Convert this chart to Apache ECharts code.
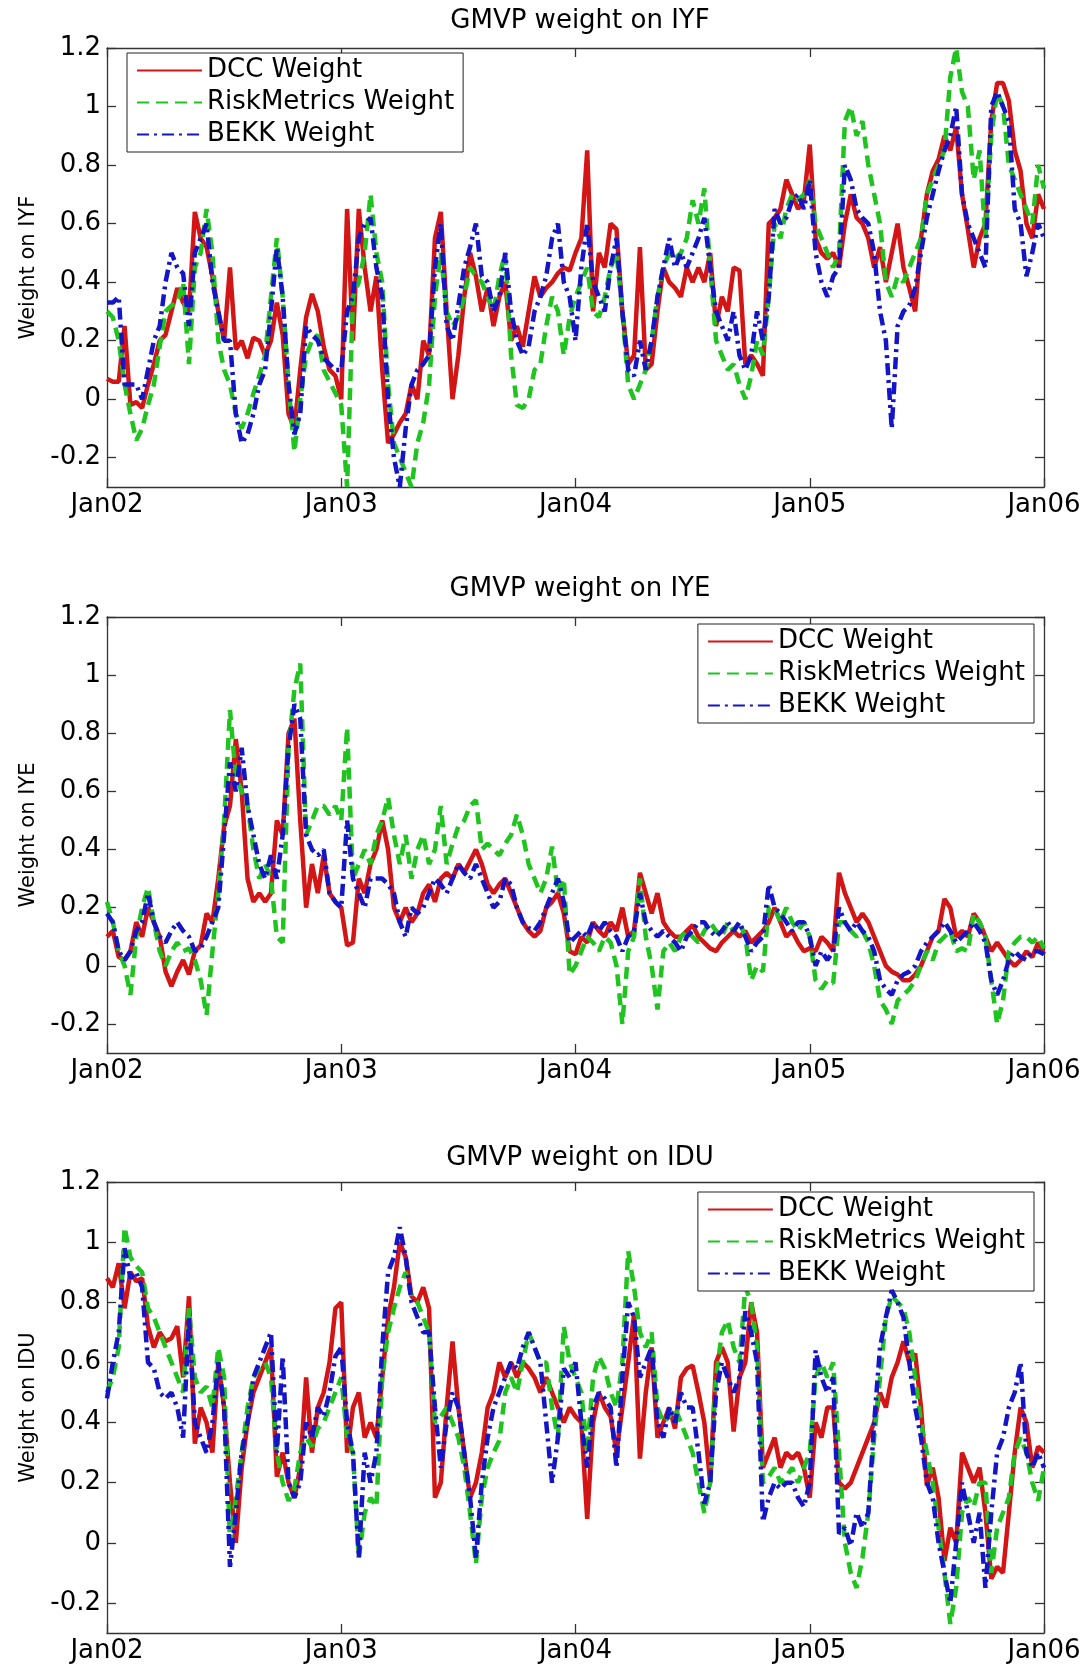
<!DOCTYPE html>
<html>
<head>
<meta charset="utf-8">
<title>GMVP weights</title>
<script src="https://cdn.jsdelivr.net/npm/echarts@6/dist/echarts.min.js"></script>
<style>
  html, body { margin: 0; padding: 0; background: #fff; }
  #main { width: 1092px; height: 1665px; }
</style>
</head>
<body>
<div id="main"></div>
<script>
// 40 samples a year, Jan 2002 .. Jan 2006
const yearTicks = [0, 40, 80, 120, 160];
const yearLabels = ['Jan02', 'Jan03', 'Jan04', 'Jan05', 'Jan06'];
const weightTicks = [-0.2, 0, 0.2, 0.4, 0.6, 0.8, 1, 1.2];
const seriesNames = ['DCC Weight', 'RiskMetrics Weight', 'BEKK Weight'];

const dccIYF = [
  0.07, 0.06, 0.06, 0.25, -0.02, -0.01, -0.03, 0.05, 0.12, 0.2,
  0.22, 0.3, 0.38, 0.33, 0.3, 0.64, 0.55, 0.52, 0.42, 0.3,
  0.2, 0.45, 0.17, 0.2, 0.14, 0.21, 0.2, 0.15, 0.2, 0.33,
  0.22, -0.05, -0.1, 0.1, 0.28, 0.36, 0.3, 0.18, 0.1, 0.08,
  0.0, 0.65, 0.2, 0.65, 0.45, 0.3, 0.42, 0.1, -0.15, -0.12,
  -0.08, -0.05, 0.05, 0.0, 0.2, 0.15, 0.55, 0.64, 0.3, 0.0,
  0.15, 0.35, 0.5, 0.42, 0.3, 0.38, 0.25, 0.35, 0.4, 0.2,
  0.25, 0.18, 0.3, 0.42, 0.35, 0.38, 0.4, 0.43, 0.45, 0.44,
  0.5, 0.55, 0.85, 0.3, 0.5, 0.45, 0.6, 0.58, 0.3, 0.12,
  0.15, 0.52, 0.1, 0.12, 0.3, 0.45, 0.4, 0.38, 0.35, 0.45,
  0.4, 0.45, 0.4, 0.5, 0.25, 0.35, 0.3, 0.45, 0.44, 0.12,
  0.15, 0.12, 0.08, 0.6, 0.62, 0.65, 0.75, 0.7, 0.65, 0.68,
  0.87, 0.55, 0.5, 0.48, 0.5, 0.45, 0.6, 0.7, 0.62, 0.6,
  0.55, 0.45, 0.52, 0.4, 0.5, 0.6, 0.45, 0.38, 0.3, 0.55,
  0.7, 0.78, 0.82, 0.9, 0.85, 0.93, 0.7, 0.58, 0.45, 0.55,
  0.6, 0.95, 1.08, 1.08, 1.02, 0.85, 0.78, 0.6, 0.55, 0.7,
  0.65
];
const rmIYF = [
  0.3, 0.28, 0.2, 0.05, -0.05, -0.14, -0.1, -0.02, 0.05, 0.18,
  0.3, 0.32, 0.33, 0.4, 0.12, 0.45, 0.5, 0.65, 0.5, 0.2,
  0.1, 0.05, -0.05, -0.1, -0.05, 0.02, 0.08, 0.15, 0.35, 0.55,
  0.35, 0.05, -0.18, 0.0, 0.15, 0.2, 0.22, 0.1, 0.06, 0.02,
  -0.02, -0.3, 0.35, 0.4, 0.5, 0.7, 0.5, 0.4, 0.05, -0.15,
  -0.2, -0.25, -0.3, -0.15, -0.08, 0.05, 0.35, 0.5, 0.3, 0.25,
  0.28, 0.35, 0.45, 0.42, 0.4, 0.35, 0.3, 0.42, 0.5, 0.15,
  -0.02, -0.03, 0.0, 0.1, 0.12, 0.25, 0.35, 0.3, 0.15, 0.28,
  0.35, 0.4, 0.45, 0.3, 0.28, 0.35, 0.45, 0.5, 0.3, 0.05,
  0.0, 0.05, 0.1, 0.2, 0.35, 0.45, 0.5, 0.48, 0.5, 0.55,
  0.68, 0.6, 0.72, 0.45, 0.2, 0.15, 0.1, 0.12, 0.05, 0.0,
  0.08, 0.2, 0.15, 0.35, 0.6, 0.55, 0.65, 0.7, 0.68, 0.7,
  0.75, 0.6, 0.55, 0.5, 0.45, 0.5, 0.95, 1.0, 0.9, 0.95,
  0.8, 0.7, 0.6, 0.4, 0.35, 0.42, 0.4, 0.45, 0.5, 0.55,
  0.7, 0.75, 0.8, 0.85, 1.1, 1.2, 1.05, 1.0, 0.75, 0.85,
  0.55, 0.9, 1.05, 1.0, 0.8, 0.75, 0.7, 0.65, 0.6, 0.8,
  0.72
];
const bekkIYF = [
  0.33, 0.33, 0.35, 0.05, 0.05, 0.05, 0.0, 0.1, 0.2, 0.25,
  0.4, 0.5, 0.45, 0.43, 0.25, 0.5, 0.55, 0.6, 0.4, 0.3,
  0.2, 0.2, -0.05, -0.15, -0.12, -0.05, 0.05, 0.1, 0.3, 0.52,
  0.35, 0.05, -0.12, -0.05, 0.25, 0.22, 0.2, 0.14, 0.12, 0.1,
  0.1, 0.3, 0.35, 0.55, 0.6, 0.62, 0.45, 0.35, 0.0, -0.2,
  -0.3, -0.1, 0.05, 0.1, 0.12, 0.15, 0.45, 0.6, 0.25, 0.2,
  0.32, 0.45, 0.52, 0.6, 0.42, 0.4, 0.3, 0.35, 0.5, 0.3,
  0.2, 0.15, 0.18, 0.3, 0.35, 0.42, 0.55, 0.6, 0.4, 0.35,
  0.2, 0.45, 0.6, 0.4, 0.35, 0.3, 0.45, 0.55, 0.3, 0.1,
  0.08, 0.2, 0.1, 0.2, 0.35, 0.45, 0.55, 0.45, 0.5, 0.45,
  0.5, 0.55, 0.62, 0.45, 0.3, 0.25, 0.2, 0.3, 0.15, 0.1,
  0.15, 0.3, 0.2, 0.35, 0.65, 0.6, 0.62, 0.68, 0.7, 0.65,
  0.75, 0.5, 0.4, 0.35, 0.42, 0.45, 0.8, 0.75, 0.65, 0.62,
  0.6, 0.5, 0.3, 0.2, -0.1, 0.25, 0.3, 0.32, 0.38, 0.5,
  0.62, 0.7, 0.78, 0.85, 0.9, 1.0, 0.7, 0.6, 0.55, 0.5,
  0.45, 1.0, 1.05, 1.0, 0.95, 0.65, 0.6, 0.42, 0.5, 0.6,
  0.55
];

const dccIYE = [
  0.1, 0.12, 0.03, 0.02, 0.05, 0.15, 0.1, 0.2, 0.15, 0.1,
  -0.02, -0.07, -0.02, 0.02, -0.03, 0.05, 0.07, 0.18, 0.15, 0.3,
  0.48, 0.55, 0.78, 0.6, 0.3, 0.22, 0.25, 0.22, 0.25, 0.5,
  0.45, 0.8, 0.85, 0.5, 0.2, 0.35, 0.25, 0.38, 0.25, 0.22,
  0.2, 0.07, 0.08, 0.3, 0.25, 0.35, 0.4, 0.5, 0.4, 0.2,
  0.15, 0.2, 0.15, 0.18, 0.25, 0.28, 0.22, 0.3, 0.32, 0.3,
  0.35, 0.32, 0.36, 0.4, 0.35, 0.28, 0.25, 0.28, 0.3, 0.25,
  0.2, 0.15, 0.12, 0.1, 0.12, 0.2, 0.22, 0.25, 0.18, 0.05,
  0.04, 0.1, 0.08, 0.15, 0.12, 0.1, 0.15, 0.12, 0.2, 0.1,
  0.12, 0.32, 0.25, 0.18, 0.25, 0.15, 0.12, 0.1, 0.1, 0.12,
  0.14, 0.1, 0.08, 0.06, 0.05, 0.08, 0.1, 0.12, 0.1, 0.12,
  0.08, 0.1, 0.12, 0.15, 0.2, 0.15, 0.1, 0.12, 0.08, 0.05,
  0.06, 0.05, 0.1, 0.08, 0.05, 0.32, 0.25, 0.2, 0.15, 0.18,
  0.15, 0.1, 0.05, 0.0, -0.02, -0.03, -0.05, -0.05, -0.03, 0.0,
  0.05, 0.1, 0.12, 0.23, 0.2, 0.1, 0.12, 0.1, 0.18, 0.15,
  0.1, 0.05, 0.08, 0.05, 0.02, 0.0, 0.02, 0.05, 0.03, 0.08,
  0.04
];
const rmIYE = [
  0.22, 0.15, 0.05, 0.0, -0.1, 0.1, 0.2, 0.27, 0.15, 0.05,
  0.0, 0.05, 0.08, 0.05, 0.06, 0.02, -0.05, -0.17, 0.05, 0.25,
  0.5, 0.88, 0.65, 0.6, 0.55, 0.4, 0.3, 0.35, 0.3, 0.1,
  0.08, 0.75, 0.95, 1.04, 0.45, 0.5, 0.55, 0.55, 0.52, 0.55,
  0.5, 0.82, 0.3, 0.35, 0.4, 0.35, 0.45, 0.5, 0.58, 0.45,
  0.35, 0.45, 0.3, 0.4, 0.45, 0.35, 0.4, 0.55, 0.35, 0.42,
  0.48, 0.5, 0.55, 0.57, 0.4, 0.42, 0.4, 0.38, 0.42, 0.45,
  0.52, 0.45, 0.35, 0.3, 0.25, 0.3, 0.41, 0.25, 0.3, -0.03,
  0.0, 0.05, 0.1, 0.08, 0.05, 0.1, 0.08, 0.0, -0.2, 0.05,
  0.1, 0.3, 0.1, 0.0, -0.15, 0.05, 0.08, 0.05, 0.1, 0.12,
  0.1, 0.08, 0.12, 0.15, 0.12, 0.1, 0.15, 0.12, 0.15, 0.1,
  -0.05, 0.0, -0.02, 0.2, 0.2, 0.15, 0.2, 0.15, 0.12, 0.15,
  0.1, -0.05, -0.08, -0.05, -0.06, 0.15, 0.15, 0.12, 0.1, 0.12,
  0.08, 0.0, -0.12, -0.15, -0.2, -0.12, -0.1, -0.08, -0.05, 0.0,
  0.05, 0.02, 0.08, 0.1, 0.12, 0.05, 0.06, 0.05, 0.18, 0.15,
  0.1, -0.05, -0.2, -0.12, 0.05, 0.08, 0.1, 0.1, 0.08, 0.1,
  0.06
];
const bekkIYE = [
  0.18, 0.15, 0.05, 0.02, 0.05, 0.12, 0.15, 0.25, 0.15, 0.1,
  0.08, 0.12, 0.15, 0.12, 0.1, 0.05, 0.06, 0.1, 0.15, 0.2,
  0.45, 0.7, 0.6, 0.75, 0.55, 0.45, 0.35, 0.3, 0.38, 0.3,
  0.45, 0.75, 0.9, 0.85, 0.45, 0.4, 0.38, 0.4, 0.25, 0.22,
  0.2, 0.5, 0.3, 0.25, 0.2, 0.3, 0.3, 0.3, 0.28, 0.25,
  0.15, 0.1, 0.2, 0.18, 0.2, 0.25, 0.3, 0.28, 0.25, 0.3,
  0.35, 0.32, 0.3, 0.35, 0.3, 0.25, 0.2, 0.22, 0.3, 0.28,
  0.2, 0.15, 0.13, 0.12, 0.15, 0.2, 0.25, 0.3, 0.22, 0.08,
  0.1, 0.12, 0.1, 0.15, 0.12, 0.15, 0.12, 0.1, 0.05, 0.1,
  0.12, 0.25, 0.15, 0.12, 0.1, 0.12, 0.1, 0.08, 0.05, 0.1,
  0.12, 0.15, 0.15, 0.12, 0.1, 0.12, 0.15, 0.12, 0.15, 0.1,
  0.05, 0.08, 0.1, 0.28, 0.2, 0.18, 0.15, 0.12, 0.15, 0.15,
  0.1, 0.0, 0.05, 0.02, 0.05, 0.2, 0.15, 0.12, 0.15, 0.12,
  0.1, 0.05, -0.05, -0.08, -0.1, -0.05, -0.03, -0.02, 0.0, 0.05,
  0.08, 0.1, 0.12, 0.15, 0.12, 0.08, 0.1, 0.12, 0.15, 0.12,
  0.08, -0.05, -0.1, -0.05, 0.02, 0.05, 0.03, 0.02, 0.05, 0.05,
  0.04
];

const dccIDU = [
  0.88, 0.85, 0.93, 0.78, 0.9, 0.87, 0.88, 0.72, 0.65, 0.7,
  0.67, 0.68, 0.72, 0.55, 0.82, 0.33, 0.45, 0.4, 0.3, 0.6,
  0.45, 0.2, 0.0, 0.25, 0.4, 0.5, 0.55, 0.6, 0.65, 0.22,
  0.3, 0.2, 0.15, 0.25, 0.55, 0.3, 0.45, 0.5, 0.6, 0.78,
  0.8, 0.3, 0.45, 0.5, 0.35, 0.4, 0.35, 0.55, 0.75, 0.85,
  1.0, 0.95, 0.82, 0.8, 0.85, 0.78, 0.15, 0.2, 0.45, 0.67,
  0.45, 0.3, 0.15, 0.2, 0.3, 0.45, 0.5, 0.6, 0.55, 0.6,
  0.55, 0.6, 0.58, 0.55, 0.5, 0.55, 0.5, 0.45, 0.4, 0.45,
  0.42, 0.4, 0.08, 0.4, 0.5, 0.45, 0.42, 0.3, 0.45, 0.6,
  0.76, 0.28, 0.5, 0.65, 0.35, 0.4, 0.45, 0.38, 0.55, 0.58,
  0.59, 0.5, 0.4, 0.2, 0.6, 0.65, 0.6, 0.37, 0.55, 0.6,
  0.8, 0.7, 0.25, 0.3, 0.35, 0.25, 0.3, 0.28, 0.3, 0.25,
  0.15, 0.4, 0.35, 0.45, 0.45, 0.2, 0.18, 0.2, 0.25, 0.3,
  0.35, 0.4, 0.5, 0.45, 0.55, 0.6, 0.67, 0.6, 0.63, 0.45,
  0.19, 0.25, 0.15, -0.06, 0.05, 0.0, 0.3, 0.25, 0.2, 0.25,
  0.1, -0.12, -0.08, -0.1, 0.1, 0.3, 0.45, 0.4, 0.25, 0.32,
  0.3
];
const rmIDU = [
  0.5, 0.55, 0.65, 1.05, 0.95, 0.92, 0.9, 0.78, 0.75, 0.7,
  0.65, 0.6, 0.55, 0.5, 0.78, 0.55, 0.5, 0.52, 0.45, 0.65,
  0.55, 0.0, 0.15, 0.3, 0.45, 0.55, 0.58, 0.6, 0.55, 0.3,
  0.2, 0.14, 0.18, 0.3, 0.35, 0.32, 0.38, 0.4, 0.45, 0.5,
  0.55, 0.35, 0.3, -0.05, 0.1, 0.15, 0.12, 0.55, 0.7, 0.78,
  0.85, 0.9, 0.82, 0.8, 0.75, 0.7, 0.4, 0.42, 0.45, 0.4,
  0.35, 0.25, 0.1, -0.07, 0.15, 0.25, 0.3, 0.34, 0.5, 0.55,
  0.5, 0.6, 0.7, 0.65, 0.6, 0.6, 0.45, 0.35, 0.72, 0.6,
  0.55, 0.5, 0.3, 0.55, 0.62, 0.58, 0.5, 0.45, 0.6, 0.97,
  0.85, 0.7, 0.65, 0.7, 0.45, 0.4, 0.42, 0.45, 0.4, 0.35,
  0.3, 0.2, 0.1, 0.2, 0.55, 0.7, 0.74, 0.65, 0.6, 0.85,
  0.8, 0.65, 0.2, 0.22, 0.25, 0.2, 0.22, 0.25, 0.2, 0.25,
  0.3, 0.55, 0.6, 0.55, 0.6, 0.3, 0.0, -0.1, -0.15, -0.05,
  0.1, 0.35, 0.55, 0.75, 0.82, 0.8, 0.78, 0.7, 0.55, 0.4,
  0.3, 0.2, 0.05, -0.1, -0.27, -0.15, 0.1, 0.15, 0.12, 0.2,
  0.2, -0.1, 0.05, 0.1, 0.15, 0.3, 0.35, 0.3, 0.2, 0.14,
  0.25
];
const bekkIDU = [
  0.48, 0.6, 0.7, 0.98, 0.88, 0.9, 0.85, 0.6, 0.58, 0.5,
  0.48, 0.5, 0.45, 0.35, 0.75, 0.4, 0.35, 0.3, 0.4, 0.6,
  0.45, -0.08, 0.1, 0.3, 0.4, 0.55, 0.6, 0.65, 0.7, 0.3,
  0.62, 0.2, 0.15, 0.2, 0.4, 0.35, 0.45, 0.42, 0.5, 0.62,
  0.65, 0.4, 0.3, -0.05, 0.3, 0.2, 0.3, 0.65, 0.9, 0.95,
  1.05, 0.95, 0.8, 0.75, 0.7, 0.7, 0.45, 0.25, 0.4, 0.5,
  0.45, 0.3, 0.15, -0.05, 0.2, 0.35, 0.45, 0.5, 0.55, 0.6,
  0.58, 0.65, 0.7, 0.65, 0.6, 0.4, 0.2, 0.35, 0.58, 0.55,
  0.6, 0.4, 0.25, 0.45, 0.5, 0.48, 0.45, 0.25, 0.55, 0.8,
  0.75, 0.55, 0.6, 0.65, 0.4, 0.35, 0.45, 0.4, 0.5, 0.45,
  0.45, 0.3, 0.13, 0.2, 0.5, 0.6, 0.55, 0.5, 0.55, 0.77,
  0.7, 0.6, 0.07, 0.15, 0.2, 0.18, 0.2, 0.2, 0.15, 0.12,
  0.2, 0.64, 0.55, 0.5, 0.55, 0.03, 0.05, -0.01, 0.1, 0.05,
  0.1, 0.4, 0.65, 0.75, 0.84, 0.8, 0.75, 0.6, 0.45, 0.35,
  0.2, 0.15, 0.0, -0.1, -0.2, 0.0, 0.2, 0.1, 0.0, 0.1,
  -0.15, 0.1, 0.3, 0.35, 0.45, 0.5, 0.6, 0.3, 0.25, 0.3,
  0.25
];

document.addEventListener('DOMContentLoaded', function () {
  var font = 'DejaVu Sans';
  var axisColor = '#333';
  var lineColors = ['#d41515', '#1fc41f', '#1414c8'];
  var lineTypes = ['solid', [12, 7], [12, 5, 3, 5]];

  var panels = [
    { asset: 'IYF', top: 48, height: 439, titleTop: 3, lines: [dccIYF, rmIYF, bekkIYF], legend: { left: 127, top: 53 } },
    { asset: 'IYE', top: 617, height: 436, titleTop: 571, lines: [dccIYE, rmIYE, bekkIYE], legend: { right: 58, top: 624 } },
    { asset: 'IDU', top: 1182, height: 451, titleTop: 1140, lines: [dccIDU, rmIDU, bekkIDU], legend: { right: 58, top: 1192 } }
  ];

  var option = { animation: false, title: [], legend: [], grid: [], xAxis: [], yAxis: [], series: [] };

  panels.forEach(function (p, k) {
    option.title.push({
      text: 'GMVP weight on ' + p.asset,
      left: 575, textAlign: 'center', top: p.titleTop,
      textStyle: { fontFamily: font, fontSize: 26, fontWeight: 'normal', color: '#000' }
    });
    option.grid.push({ left: 107, width: 937, top: p.top, height: p.height });

    var line = { show: true, onZero: false, lineStyle: { color: axisColor, width: 1.3 } };
    var tick = { show: true, inside: true, length: 9, lineStyle: { color: axisColor, width: 1.3 } };

    option.xAxis.push({
      type: 'value', gridIndex: k, position: 'bottom', min: 0, max: 160,
      axisLine: line,
      axisTick: Object.assign({ customValues: yearTicks }, tick),
      axisLabel: {
        customValues: yearTicks, margin: 5, color: '#000', fontFamily: font, fontSize: 26,
        formatter: function (v) { return yearLabels[yearTicks.indexOf(v)]; }
      },
      splitLine: { show: false }
    });
    option.xAxis.push({
      type: 'value', gridIndex: k, position: 'top', min: 0, max: 160,
      axisLine: line,
      axisTick: Object.assign({ customValues: yearTicks }, tick),
      axisLabel: { show: false },
      splitLine: { show: false }
    });
    option.yAxis.push({
      type: 'value', gridIndex: k, position: 'left', min: -0.3, max: 1.2,
      name: 'Weight on ' + p.asset, nameLocation: 'middle', nameGap: 68,
      nameTextStyle: { fontFamily: font, fontSize: 21, color: '#000' },
      axisLine: line,
      axisTick: Object.assign({ customValues: weightTicks }, tick),
      axisLabel: {
        customValues: weightTicks, margin: 6, color: '#000', fontFamily: font, fontSize: 26,
        formatter: function (v) { return String(Math.round(v * 10) / 10); }
      },
      splitLine: { show: false }
    });
    option.yAxis.push({
      type: 'value', gridIndex: k, position: 'right', min: -0.3, max: 1.2,
      axisLine: line,
      axisTick: Object.assign({ customValues: weightTicks }, tick),
      axisLabel: { show: false },
      splitLine: { show: false }
    });

    p.lines.forEach(function (vals, s) {
      option.series.push({
        name: seriesNames[s], type: 'line',
        xAxisIndex: 2 * k, yAxisIndex: 2 * k,
        data: vals.map(function (v, i) { return [i, v]; }),
        symbol: 'none', showSymbol: false,
        lineStyle: { color: lineColors[s], width: 4.5, type: lineTypes[s] },
        itemStyle: { color: lineColors[s] },
        emphasis: { disabled: true },
        z: 2 + s
      });
    });

    option.legend.push(Object.assign({
      orient: 'vertical', data: seriesNames,
      itemWidth: 65, itemHeight: 14, itemGap: 5,
      padding: [4, 9, 4, 9],
      borderColor: '#222', borderWidth: 1, backgroundColor: '#fff',
      lineStyle: { width: 2 },
      itemStyle: { opacity: 0 },
      textStyle: { fontFamily: font, fontSize: 26, lineHeight: 27, color: '#000' }
    }, p.legend));
  });

  var myChart = echarts.init(document.getElementById('main'));
  myChart.setOption(option);
});
</script>
</body>
</html>
